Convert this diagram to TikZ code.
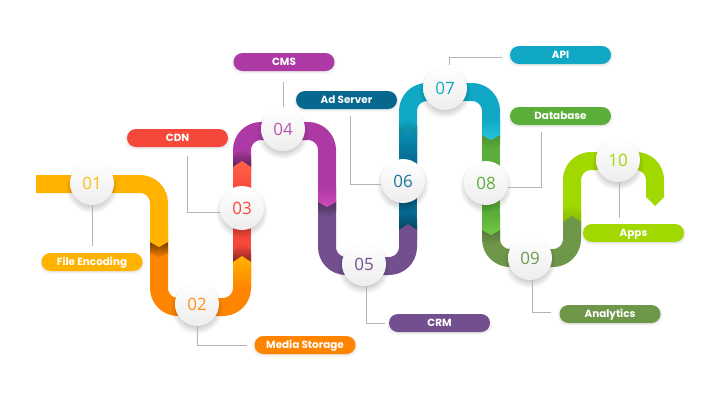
\documentclass[tikz,border=0pt]{standalone}
\usepackage{fontspec}
\setmainfont{Poppins}
\newfontfamily\numfont{Open Sans}
\definecolor{cAmber}{HTML}{FFB300}
\definecolor{cOrange}{HTML}{FF8500}
\definecolor{cRed}{HTML}{F6473B}
\definecolor{cRedL}{HTML}{FF6248}
\definecolor{cMag}{HTML}{AD3AA4}
\definecolor{cMagL}{HTML}{CE49BC}
\definecolor{cPur}{HTML}{744F8F}
\definecolor{cBlue}{HTML}{06688F}
\definecolor{cBlueL}{HTML}{0A8FB5}
\definecolor{cTeal}{HTML}{10A8C4}
\definecolor{cTealL}{HTML}{22C6DA}
\definecolor{cGreen}{HTML}{5CAE3A}
\definecolor{cGreenL}{HTML}{72C944}
\definecolor{cOlive}{HTML}{6F974A}
\definecolor{cLime}{HTML}{A1D800}
\definecolor{cLeader}{HTML}{B4B4B4}
\tikzset{
  band/.style={line width=18pt,rounded corners=19pt,line cap=butt,line join=round},
  leader/.style={draw=cLeader,line width=.8pt},
  pill/.style={rounded corners=9pt,minimum width=101pt,minimum height=18pt,inner sep=0pt,text=white,font=\fontsize{10.4}{12}\selectfont\bfseries},
  disc/.style={circle,minimum size=44pt,inner sep=0pt,top color=white,bottom color=black!7,font=\numfont\fontsize{17}{20}\selectfont}
}
% x, y of the sides, colour of the tip's far part, colour at the tip, shadow colour, ground colour
\newcommand{\tipdown}[6]{%
  \shade[top color=#5,bottom color=#6] (#1-9,#2) -- (#1,#2+5) -- (#1+9,#2) -- (#1+9,#2+11) -- (#1,#2+16) -- (#1-9,#2+11) -- cycle;
  \shade[top color=#3,bottom color=#4] (#1-9,#2-16) -- (#1+9,#2-16) -- (#1+9,#2) -- (#1,#2+5) -- (#1-9,#2) -- cycle;}
\newcommand{\tipup}[6]{%
  \shade[bottom color=#5,top color=#6] (#1-9,#2) -- (#1,#2-6) -- (#1+9,#2) -- (#1+9,#2-12) -- (#1,#2-18) -- (#1-9,#2-12) -- cycle;
  \shade[bottom color=#3,top color=#4] (#1-9,#2+26) -- (#1+9,#2+26) -- (#1+9,#2) -- (#1,#2-6) -- (#1-9,#2) -- cycle;}
% the same for a tip of one flat colour, which stays above the bend
\newcommand{\flatup}[5]{%
  \shade[bottom color=#4,top color=#5] (#1-9,#2) -- (#1,#2-6) -- (#1+9,#2) -- (#1+9,#2-12) -- (#1,#2-18) -- (#1-9,#2-12) -- cycle;
  \fill[#3] (#1-9,#2+10) -- (#1+9,#2+10) -- (#1+9,#2) -- (#1,#2-6) -- (#1-9,#2) -- cycle;}
\newcommand{\discnode}[5]{%
  \foreach \r in {0,1,...,7}{\fill[black,opacity=.022] (#2,#3+4) circle[radius=19pt+\r pt];}
  \node[disc,text=#4] (#1) at (#2,#3) {#5};}
\newcommand{\pillnode}[5]{%
  \foreach \r in {0,1,2}{\fill[black,opacity=.035,rounded corners=9pt] (#2-50.5-\r,#3-8-\r+1.5) rectangle (#2+50.5+\r,#3+8+\r+1.5);}
  \node[pill,fill=#4] (#1) at (#2,#3) {\raisebox{-3.8pt}[0pt][0pt]{#5}};}
\begin{document}
\begin{tikzpicture}[x=1pt,y=-1pt]
\useasboundingbox (0,0) rectangle (720,400);
\fill[white] (0,0) rectangle (720,400);
% ribbon
\draw[band,cAmber] (36,184) -- (159,184) -- (159,240);
\draw[band,cOrange] (159,240) -- (159,307) -- (242,307) -- (242,255);
\draw[band,cRed] (242,262) -- (242,190);
\shade[top color=cRedL,bottom color=cRed] (233,160) rectangle (251,205);
\draw[band,cMag] (242,170) -- (242,131) -- (327,131) -- (327,205);
\draw[band,cPur] (327,200) -- (327,266) -- (408,266) -- (408,228);
\draw[band,cBlue] (408,232) -- (408,150);
\shade[top color=cBlueL,bottom color=cBlue] (399,125) rectangle (417,165);
\draw[band,cTeal] (408,140) -- (408,92) -- (491,92) -- (491,138);
\draw[band,cGreen] (491,133) -- (491,232);
\draw[band,cOlive] (491,228) -- (491,258) -- (572,258) -- (572,220);
\draw[band,cLime] (572,224) -- (572,161) -- (655,161) -- (655,197);
\fill[cLime] (646,196) -- (664,196) -- (664,197) -- (655,206) -- (646,197) -- cycle;
% chevrons
\tipdown{159}{242}{cAmber}{cAmber}{black!55!cOrange}{cOrange}
\tipup{242}{262}{cOrange}{cAmber}{black!45!cRed}{cRed}
\tipup{242}{167}{cRed}{cRedL}{black!45!cMag}{cMag}
\tipdown{327}{202}{cMag}{cMagL}{black!35!cPur}{cPur}
\flatup{408}{230}{cPur}{black!35!cBlue}{cBlue}
\tipup{408}{137}{cBlue}{cBlueL}{black!25!cTeal}{cTeal}
\tipdown{491}{135}{cTeal}{cTealL}{black!15!cGreen}{cGreen}
\tipdown{491}{230}{cGreen}{cGreenL}{black!20!cOlive}{cOlive}
\flatup{572}{222}{cOlive}{black!15!cLime}{cLime}
% discs
\discnode{d1}{92}{183}{cAmber!90!white}{01}
\discnode{d2}{197}{304}{cOrange!90!white}{02}
\discnode{d3}{242}{208}{cRed}{03}
\discnode{d4}{283}{129}{cMag!85!white}{04}
\discnode{d5}{364}{264}{cPur}{05}
\discnode{d6}{403}{181}{cBlue!90!white}{06}
\discnode{d7}{445}{88}{cTeal}{07}
\discnode{d8}{486}{183}{cGreen}{08}
\discnode{d9}{530}{258}{cOlive}{09}
\discnode{d10}{618}{160}{cLime}{10}
% labels
\pillnode{l1}{92}{262}{cAmber}{File Encoding}
\pillnode{l2}{305}{345}{cOrange}{Media Storage}
\pillnode{l3}{177.5}{138}{cRed}{CDN}
\pillnode{l4}{284}{62}{cMag}{CMS}
\pillnode{l5}{439.5}{323}{cPur}{CRM}
\pillnode{l6}{346.5}{100}{cBlue}{Ad Server}
\pillnode{l7}{560.5}{55}{cTeal}{API}
\pillnode{l8}{560.5}{116}{cGreen}{Database}
\pillnode{l9}{610}{314}{cOlive}{Analytics}
\pillnode{l10}{633.5}{233}{cLime}{Apps}
% leaders
\draw[leader] (d1.south) -- ([yshift=7pt]l1.north);
\draw[leader] (d2.south) |- ([xshift=-7pt]l2.west);
\draw[leader] ([xshift=9.5pt,yshift=-9pt]l3.south) |- ([yshift=-4pt]d3.west);
\draw[leader] ([yshift=-11pt]l4.south -| d4.north) -- (d4.north);
\draw[leader] ([xshift=2pt]d5.south) |- ([xshift=-4pt]l5.west);
\draw[leader] ([xshift=3.5pt,yshift=-7pt]l6.south) |- ([yshift=-3pt]d6.west);
\draw[leader] ([xshift=4pt,yshift=1pt]d7.north) |- ([xshift=-8pt,yshift=-2pt]l7.west);
\draw[leader] ([yshift=-4pt]d8.east) -| ([xshift=-19.5pt,yshift=-7pt]l8.south);
\draw[leader] ([xshift=2pt]d9.south) |- ([xshift=-8pt,yshift=2pt]l9.west);
\draw[leader] ([xshift=1pt]d10.south) -- ([xshift=-14.5pt,yshift=6pt]l10.north);
\end{tikzpicture}
\end{document}
